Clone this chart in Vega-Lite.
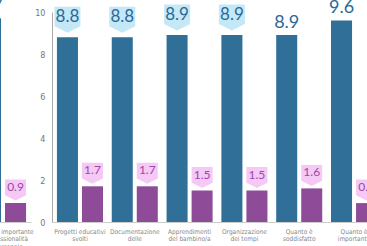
{
  "$schema": "https://vega.github.io/schema/vega-lite/v6.json",
  "background": "white",
  "padding": {"left": -29, "top": -3, "right": 0, "bottom": 0},
  "spacing": 0,
  "datasets": {
    "voti": [
      {"pannello": "A", "voce": "Quanto è importante\nla professionalità\ndel personale", "serie": "Media", "valore": 9.7},
      {"pannello": "A", "voce": "Quanto è importante\nla professionalità\ndel personale", "serie": "Dev. standard", "valore": 0.9},
      {"pannello": "B", "voce": "Progetti educativi\nsvolti", "serie": "Media", "valore": 8.8},
      {"pannello": "B", "voce": "Progetti educativi\nsvolti", "serie": "Dev. standard", "valore": 1.7},
      {"pannello": "B", "voce": "Documentazione\ndelle", "serie": "Media", "valore": 8.8},
      {"pannello": "B", "voce": "Documentazione\ndelle", "serie": "Dev. standard", "valore": 1.7},
      {"pannello": "B", "voce": "Apprendimenti\ndel bambino/a", "serie": "Media", "valore": 8.9},
      {"pannello": "B", "voce": "Apprendimenti\ndel bambino/a", "serie": "Dev. standard", "valore": 1.5},
      {"pannello": "B", "voce": "Organizzazione\ndei tempi", "serie": "Media", "valore": 8.9},
      {"pannello": "B", "voce": "Organizzazione\ndei tempi", "serie": "Dev. standard", "valore": 1.5},
      {"pannello": "B", "voce": "Quanto è\nsoddisfatto", "serie": "Media", "valore": 8.9},
      {"pannello": "B", "voce": "Quanto è\nsoddisfatto", "serie": "Dev. standard", "valore": 1.6},
      {"pannello": "B", "voce": "Quanto è\nimportante", "serie": "Media", "valore": 9.6},
      {"pannello": "B", "voce": "Quanto è\nimportante", "serie": "Dev. standard", "valore": 0.9}
    ]
  },
  "resolve": {"scale": {"x": "independent", "xOffset": "independent", "y": "independent"}},
  "config": {
    "view": {"stroke": null},
    "axis": {
      "labelFont": "DejaVu Sans Condensed, Liberation Sans Narrow, Roboto Condensed, sans-serif",
      "grid": false,
      "ticks": false
    }
  },
  "hconcat": [
    {
      "width": 56,
      "height": 210,
      "data": {"name": "voti"},
      "transform": [{"filter": "datum.pannello == 'A'"}],
      "encoding": {
        "x": {"field": "voce", "type": "nominal", "sort": null, "title": null,
          "scale": {"paddingInner": 0.16, "paddingOuter": 0.09},
          "axis": {"labelAngle": 0, "labelExpr": "split(datum.label, '\\n')", "labelFontSize": 6.5, "labelLineHeight": 7.5, "labelPadding": 6, "labelColor": "#888888", "domainColor": "#cccccc", "labelOverlap": false, "labelLimit": 0}},
        "xOffset": {"field": "serie", "type": "nominal", "sort": ["Media", "Dev. standard"], "scale": {"paddingInner": 0.16, "paddingOuter": 0}},
        "y": {"field": "valore", "type": "quantitative", "scale": {"domain": [0, 10]}, "axis": null}
      },
      "layer": [
        {"mark": {"type": "bar"},
         "encoding": {"color": {"field": "serie", "type": "nominal", "legend": null, "scale": {"domain": ["Media", "Dev. standard"], "range": ["#2f6f98", "#8e4b98"]}}}},
        {"transform": [{"filter": "datum.serie == 'Media' && indexof(datum.voce, 'Quanto') != 0"}],
         "mark": {"type": "point", "shape": "M-1,-1L1,-1L1,0.5L0,1L-1,0.5Z", "size": 676, "filled": true, "opacity": 1, "color": "#c5e8f7", "yOffset": -17.5}},
        {"transform": [{"filter": "datum.serie == 'Dev. standard'"}],
         "mark": {"type": "point", "shape": "M-1,-1L1,-1L1,0.5L0,1L-1,0.5Z", "size": 441, "filled": true, "opacity": 1, "color": "#f5c8f5", "yOffset": -13}},
        {"transform": [{"filter": "datum.serie == 'Media' && indexof(datum.voce, 'Quanto') != 0"}],
         "mark": {"type": "text", "font": "Lato", "fontSize": 17, "color": "#2a6a95", "baseline": "middle", "yOffset": -20.5},
         "encoding": {"text": {"field": "valore", "type": "quantitative", "format": ".1f"}}},
        {"transform": [{"filter": "datum.serie == 'Media' && indexof(datum.voce, 'Quanto') == 0"}],
         "mark": {"type": "text", "font": "Lato", "fontSize": 18, "color": "#2a6a95", "baseline": "middle", "yOffset": -12},
         "encoding": {"text": {"field": "valore", "type": "quantitative", "format": ".1f"}}},
        {"transform": [{"filter": "datum.serie == 'Dev. standard'"}],
         "mark": {"type": "text", "font": "Lato", "fontSize": 12, "color": "#9a4aa8", "baseline": "middle", "yOffset": -16},
         "encoding": {"text": {"field": "valore", "type": "quantitative", "format": ".1f"}}}
      ]
    },
    {
      "width": 330,
      "height": 210,
      "data": {"name": "voti"},
      "transform": [{"filter": "datum.pannello == 'B'"}],
      "encoding": {
        "x": {"field": "voce", "type": "nominal", "sort": null, "title": null,
          "scale": {"paddingInner": 0.16, "paddingOuter": 0.09},
          "axis": {"labelAngle": 0, "labelExpr": "split(datum.label, '\\n')", "labelFontSize": 6.5, "labelLineHeight": 7.5, "labelPadding": 6, "labelColor": "#888888", "domainColor": "#cccccc", "labelOverlap": false, "labelLimit": 0}},
        "xOffset": {"field": "serie", "type": "nominal", "sort": ["Media", "Dev. standard"], "scale": {"paddingInner": 0.16, "paddingOuter": 0}},
        "y": {"field": "valore", "type": "quantitative", "scale": {"domain": [0, 10]}, "title": null,
          "axis": {"values": [0, 2, 4, 6, 8, 10], "labelFontSize": 9, "labelPadding": 7, "labelColor": "#777777", "domainColor": "#aaaaaa"}}
      },
      "layer": [
        {"mark": {"type": "bar"},
         "encoding": {"color": {"field": "serie", "type": "nominal", "legend": null, "scale": {"domain": ["Media", "Dev. standard"], "range": ["#2f6f98", "#8e4b98"]}}}},
        {"transform": [{"filter": "datum.serie == 'Media' && indexof(datum.voce, 'Quanto') != 0"}],
         "mark": {"type": "point", "shape": "M-1,-1L1,-1L1,0.5L0,1L-1,0.5Z", "size": 676, "filled": true, "opacity": 1, "color": "#c5e8f7", "yOffset": -17.5}},
        {"transform": [{"filter": "datum.serie == 'Dev. standard'"}],
         "mark": {"type": "point", "shape": "M-1,-1L1,-1L1,0.5L0,1L-1,0.5Z", "size": 441, "filled": true, "opacity": 1, "color": "#f5c8f5", "yOffset": -13}},
        {"transform": [{"filter": "datum.serie == 'Media' && indexof(datum.voce, 'Quanto') != 0"}],
         "mark": {"type": "text", "font": "Lato", "fontSize": 17, "color": "#2a6a95", "baseline": "middle", "yOffset": -20.5},
         "encoding": {"text": {"field": "valore", "type": "quantitative", "format": ".1f"}}},
        {"transform": [{"filter": "datum.serie == 'Media' && indexof(datum.voce, 'Quanto') == 0"}],
         "mark": {"type": "text", "font": "Lato", "fontSize": 18, "color": "#2a6a95", "baseline": "middle", "yOffset": -12},
         "encoding": {"text": {"field": "valore", "type": "quantitative", "format": ".1f"}}},
        {"transform": [{"filter": "datum.serie == 'Dev. standard'"}],
         "mark": {"type": "text", "font": "Lato", "fontSize": 12, "color": "#9a4aa8", "baseline": "middle", "yOffset": -16},
         "encoding": {"text": {"field": "valore", "type": "quantitative", "format": ".1f"}}}
      ]
    }
  ]
}
